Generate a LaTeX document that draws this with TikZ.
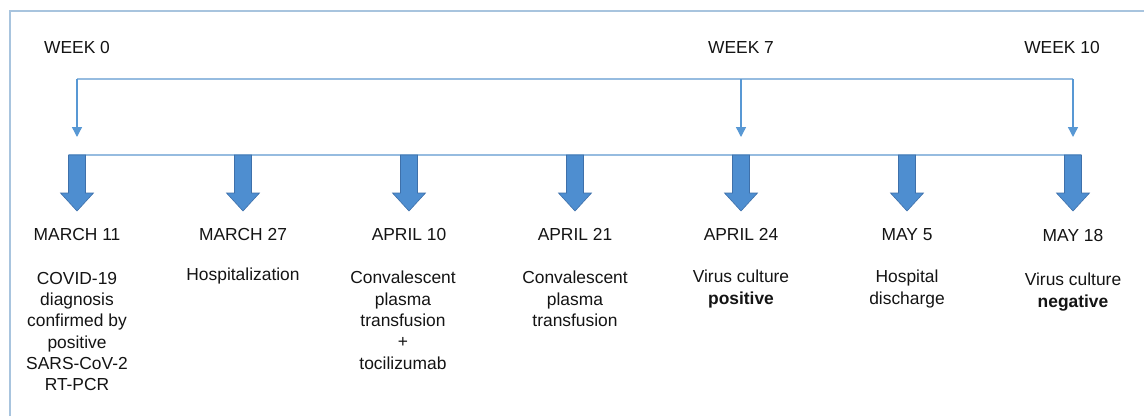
\documentclass[tikz,border=0pt]{standalone}
\usepackage{fontspec}
\setmainfont{Liberation Sans}
\usetikzlibrary{arrows.meta}
\definecolor{framec}{RGB}{168,196,222}
\definecolor{linec}{RGB}{150,188,224}
\definecolor{thinc}{RGB}{88,152,212}
\definecolor{bigfill}{RGB}{78,142,208}
\definecolor{bigdraw}{RGB}{62,112,170}
\definecolor{txt}{RGB}{20,20,20}
\tikzset{
  lbl/.style={inner sep=0pt, text=txt, font=\fontsize{17.4}{21.3}\selectfont, align=center},
  datelbl/.style={lbl, anchor=north},
  desclbl/.style={lbl, anchor=north},
  weeklbl/.style={lbl, anchor=center},
  thinarrow/.style={thinc, line width=1.4pt, -{Triangle[width=10pt,length=10pt]}},
  bracket/.style={linec, line width=1.4pt},
  bigarrow/.style={fill=bigfill, draw=bigdraw, line width=0.6pt, line join=miter}
}
\begin{document}
\begin{tikzpicture}[x=1pt,y=-1pt]
\useasboundingbox (0,0) rectangle (1144,416);
\fill[white] (0,0) rectangle (1144,416);
\draw[framec, line width=1.3pt] (10,416) -- (10,11) -- (1144,11);

% week labels
\node[weeklbl] (w0) at (77,48) {WEEK 0};
\node[weeklbl] (w7) at (741,48) {WEEK 7};
\node[weeklbl] (w10) at (1062,48) {WEEK 10};

% bracket
\coordinate (b0) at (77,79);
\coordinate (b7) at (741,79);
\coordinate (b10) at (1073,79);
\coordinate (e0) at (77,137);
\coordinate (e7) at (741,137);
\coordinate (e10) at (1073,137);
\draw[bracket] (b0) -- (b10);
\draw[thinarrow] (b0) -- (e0);
\draw[thinarrow] (b7) -- (e7);
\draw[thinarrow] (b10) -- (e10);

% horizontal line
\coordinate (hl) at (69,155);
\coordinate (hr) at (1081,155);
\draw[linec, line width=1.4pt] (hl) -- (hr);

% big arrows
\foreach \i/\x in {1/77,2/243,3/409,4/575,5/741,6/907,7/1073}{
  \draw[bigarrow] (\x-8.5,155) -- (\x+8.5,155) -- (\x+8.5,193) -- (\x+16.5,193)
     -- (\x,211) -- (\x-16.5,193) -- (\x-8.5,193) -- cycle;
  \coordinate (a\i) at (\x,211);
}

% dates
\node[datelbl] (d1) at (77,228) {MARCH 11};
\node[datelbl] (d2) at (243,228) {MARCH 27};
\node[datelbl] (d3) at (409,228) {APRIL 10};
\node[datelbl] (d4) at (575,228) {APRIL 21};
\node[datelbl] (d5) at (741,228) {APRIL 24};
\node[datelbl] (d6) at (907,228) {MAY 5};
\node[datelbl] (d7) at (1073,229) {MAY 18};

% descriptions
\node[desclbl] (t1) at (77,272) {COVID-19\\diagnosis\\confirmed by\\positive\\SARS-CoV-2\\RT-PCR};
\node[desclbl] (t2) at (243,268) {Hospitalization};
\node[desclbl] (t3) at (403,271) {Convalescent\\plasma\\transfusion\\+\\tocilizumab};
\node[desclbl] (t4) at (575,271) {Convalescent\\plasma\\transfusion};
\node[desclbl] (t5) at (741,270) {Virus culture\\\textbf{positive}};
\node[desclbl] (t6) at (907,270) {Hospital\\discharge};
\node[desclbl] (t7) at (1073,273) {Virus culture\\\textbf{negative}};
\end{tikzpicture}
\end{document}
